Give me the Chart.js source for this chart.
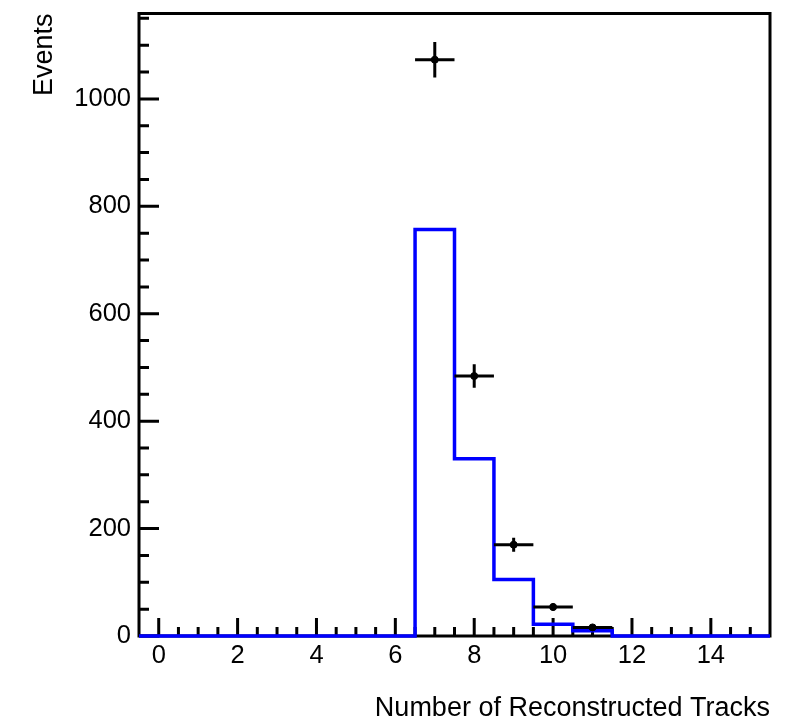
<!DOCTYPE html>
<html>
<head>
<meta charset="utf-8">
<script src="https://cdn.jsdelivr.net/npm/chart.js@4/dist/chart.umd.min.js"></script>
<style>
  html, body { margin: 0; padding: 0; background: #fff; }
</style>
</head>
<body>
<canvas id="chart" width="796" height="723"></canvas>
<script>
// simulated histogram (blue), one entry per bin centre
const binCenters = [0, 1, 2, 3, 4, 5, 6, 7, 8, 9, 10, 11, 12, 13, 14, 15];
const mcCounts   = [0, 0, 0, 0, 0, 0, 0, 757, 330, 105, 22, 10, 0, 0, 0, 0];

// measured points with errors
const dataX   = [7, 8, 9, 10, 11];
const dataY   = [1073, 484, 170, 54, 16];
const dataErr = [33, 22, 13, 7, 4];

const xTickLabels = [0, 2, 4, 6, 8, 10, 12, 14];
const yTickLabels = [0, 200, 400, 600, 800, 1000];

const FONT = "'Liberation Sans', Arial, Helvetica, sans-serif";

// step outline built from bin low edges + final upper edge
const histPoints = binCenters.map((c, i) => ({ x: c - 0.5, y: mcCounts[i] }));
histPoints.push({ x: binCenters[binCenters.length - 1] + 0.5, y: mcCounts[mcCounts.length - 1] });

const dataPoints = dataX.map((x, i) => ({ x: x, y: dataY[i] }));

// ROOT-like frame with inner ticks
const rootFrame = {
  id: "rootFrame",
  beforeDatasetsDraw(chart) {
    const { ctx, chartArea: a, scales } = chart;
    const xs = scales.x, ys = scales.y;
    ctx.save();
    ctx.strokeStyle = "#000";
    ctx.lineWidth = 3;
    ctx.lineCap = "butt";

    // x ticks: majors from labels, 3 minors between each
    ctx.beginPath();
    xTickLabels.forEach((v) => {
      const px = xs.getPixelForValue(v);
      ctx.moveTo(px, a.bottom);
      ctx.lineTo(px, a.bottom - 18);
    });
    const xStep = (xTickLabels[1] - xTickLabels[0]) / 4;
    for (let v = xs.min; v <= xs.max + 1e-9; v += xStep) {
      if (xTickLabels.some((t) => Math.abs(t - v) < 1e-9)) continue;
      const px = xs.getPixelForValue(v);
      if (px <= a.left + 1 || px >= a.right - 1) continue;
      ctx.moveTo(px, a.bottom);
      ctx.lineTo(px, a.bottom - 9);
    }
    // y ticks: majors from labels, 3 minors between each
    yTickLabels.forEach((v) => {
      const py = ys.getPixelForValue(v);
      ctx.moveTo(a.left, py);
      ctx.lineTo(a.left + 20, py);
    });
    const yStep = (yTickLabels[1] - yTickLabels[0]) / 4;
    for (let v = ys.min; v <= ys.max + 1e-9; v += yStep) {
      if (yTickLabels.some((t) => Math.abs(t - v) < 1e-9)) continue;
      const py = ys.getPixelForValue(v);
      ctx.moveTo(a.left, py);
      ctx.lineTo(a.left + 10, py);
    }
    ctx.stroke();

    ctx.strokeRect(a.left, a.top, a.right - a.left, a.bottom - a.top);
    ctx.restore();
  },
  afterDatasetsDraw(chart) {
    const { ctx, scales } = chart;
    const xs = scales.x, ys = scales.y;
    ctx.save();
    ctx.strokeStyle = "#000";
    ctx.lineWidth = 3;
    ctx.beginPath();
    dataX.forEach((x, i) => {
      const px = xs.getPixelForValue(x);
      const py = ys.getPixelForValue(dataY[i]);
      ctx.moveTo(xs.getPixelForValue(x - 0.5), py);
      ctx.lineTo(xs.getPixelForValue(x + 0.5), py);
      ctx.moveTo(px, ys.getPixelForValue(dataY[i] - dataErr[i]));
      ctx.lineTo(px, ys.getPixelForValue(dataY[i] + dataErr[i]));
    });
    ctx.stroke();
    ctx.restore();
  }
};

new Chart(document.getElementById("chart"), {
  type: "line",
  data: {
    datasets: [
      {
        label: "Data",
        type: "scatter",
        data: dataPoints,
        backgroundColor: "#000",
        borderColor: "#000",
        pointRadius: 3.5,
        pointHoverRadius: 3.5,
        showLine: false,
        clip: false
      },
      {
        label: "Simulation",
        data: histPoints,
        stepped: "before",
        borderColor: "#0000ff",
        borderWidth: 3.5,
        pointRadius: 0,
        fill: false,
        clip: false
      }
    ]
  },
  options: {
    responsive: false,
    animation: false,
    devicePixelRatio: 1,
    layout: { padding: { left: 0, right: 26, top: 13.5, bottom: 0 } },
    plugins: {
      legend: { display: false },
      tooltip: { enabled: false }
    },
    scales: {
      x: {
        type: "linear",
        min: -0.5,
        max: 15.5,
        afterBuildTicks: (s) => { s.ticks = xTickLabels.map((v) => ({ value: v })); },
        afterFit: (s) => { s.height = 87; s.paddingLeft = 0; s.paddingRight = 0; },
        grid: { display: false, drawTicks: false },
        border: { display: false },
        ticks: {
          color: "#000",
          font: { family: FONT, size: 25.5 },
          padding: 5,
          maxRotation: 0,
          autoSkip: false,
          callback: (v) => String(v)
        },
        title: {
          display: true,
          text: "Number of Reconstructed Tracks",
          align: "end",
          color: "#000",
          font: { family: FONT, size: 27, lineHeight: 1.1 },
          padding: { top: 0, bottom: 0 }
        }
      },
      y: {
        type: "linear",
        min: 0,
        max: 1159,
        afterBuildTicks: (s) => { s.ticks = yTickLabels.map((v) => ({ value: v })); },
        afterFit: (s) => { s.width = 139; s.paddingTop = 0; s.paddingBottom = 0; },
        grid: { display: false, drawTicks: false },
        border: { display: false },
        ticks: {
          color: "#000",
          font: { family: FONT, size: 25.5 },
          padding: 8,
          callback: (v) => String(v)
        },
        title: {
          display: true,
          text: "Events",
          align: "end",
          color: "#000",
          font: { family: FONT, size: 27 },
          padding: { top: 28, bottom: 0 }
        }
      }
    }
  },
  plugins: [rootFrame]
});
</script>
</body>
</html>
